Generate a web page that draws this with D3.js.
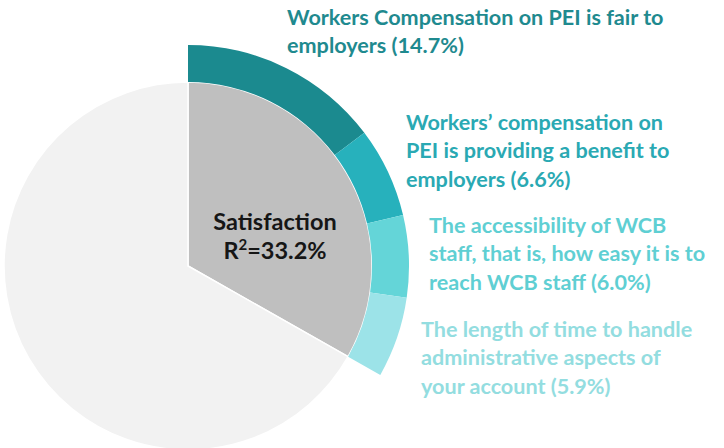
<!DOCTYPE html>
<html><head><meta charset="utf-8">
<script src="https://cdn.jsdelivr.net/npm/d3@7"></script>
<style>
body{margin:0;background:#fff;}
text{font-family:Lato, "Open Sans", sans-serif;font-weight:700;}
</style></head>
<body><svg id="c" width="724" height="448"></svg>
<script>
const pieLabels = ["Satisfaction", "Other"];
const pieValues = [33.2, 66.8];
const driverLabels = [
  ["Workers Compensation on PEI is fair to", "employers (14.7%)"],
  ["Workers\u2019 compensation on", "PEI is providing a benefit to", "employers (6.6%)"],
  ["The accessibility of WCB", "staff, that is, how easy it is to", "reach WCB staff (6.0%)"],
  ["The length of time to handle", "administrative aspects of", "your account (5.9%)"]
];
const driverValues = [14.7, 6.6, 6.0, 5.9];
const driverColors = ["#1b8a8f", "#27b1bc", "#64d5d8", "#9ce3e8"];
const textColors = ["#1f8a8f", "#2aa9b3", "#5fcfd3", "#93dde0"];
const labelPos = [[287, 25], [406, 130], [429, 233], [421, 337]];

const svg = d3.select("#c");
const cx = 188, cy = 266, r = 184, R = 221;
const g = svg.append("g").attr("transform", `translate(${cx},${cy})`);

const pie = d3.pie().sort(null).value(d => d);
const arcIn = d3.arc().innerRadius(0).outerRadius(r);
g.selectAll("path.base").data(pie(pieValues)).join("path")
  .attr("class", "base")
  .attr("d", arcIn)
  .attr("fill", (d, i) => i === 0 ? "#bfbfbf" : "#f2f2f2")
  .attr("stroke", "#fff").attr("stroke-width", 1.5);

const total = d3.sum(driverValues);
const ringPie = d3.pie().sort(null).value(d => d)
  .startAngle(0).endAngle(2 * Math.PI * total / 100);
const arcRing = d3.arc().innerRadius(r).outerRadius(R);
g.selectAll("path.ring").data(ringPie(driverValues)).join("path")
  .attr("class", "ring")
  .attr("d", arcRing)
  .attr("fill", (d, i) => driverColors[i]);

// center label
const ct = svg.append("text").attr("x", 275).attr("y", 230)
  .attr("text-anchor", "middle").attr("fill", "#161616").attr("font-size", 23.5);
ct.append("tspan").attr("x", 275).text("Satisfaction");
const t2 = ct.append("tspan").attr("x", 275).attr("dy", 29);
t2.append("tspan").text("R");
t2.append("tspan").attr("dy", -9).attr("font-size", 15).text("2");
t2.append("tspan").attr("dy", 9).text("=" + pieValues[0].toFixed(1) + "%");

driverLabels.forEach((lines, i) => {
  const t = svg.append("text").attr("x", labelPos[i][0]).attr("y", labelPos[i][1])
    .attr("fill", textColors[i]).attr("font-size", 21.6);
  lines.forEach((ln, j) => {
    t.append("tspan").attr("x", labelPos[i][0]).attr("dy", j === 0 ? 0 : 28.3).text(ln);
  });
});
</script></body></html>
